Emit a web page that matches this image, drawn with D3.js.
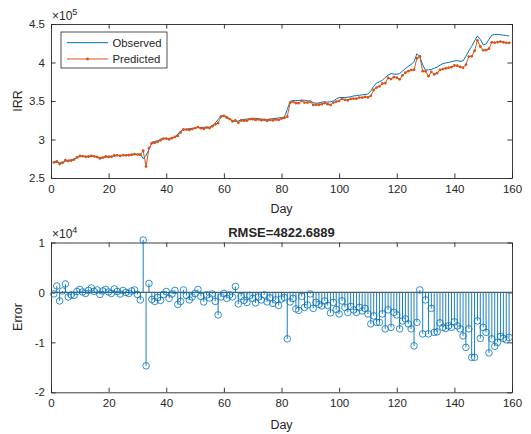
<!DOCTYPE html>
<html><head><meta charset="utf-8">
<script src="https://cdn.jsdelivr.net/npm/d3@7"></script>
<style>
body{margin:0;background:#fff;}
text{font-family:"Liberation Sans",Arial,Helvetica,sans-serif;fill:#262626;}
</style>
</head><body>
<svg id="chart" width="531" height="434"></svg>
<script>
// ---------- data ----------
const observed = [
270500,270300,269800,269500,271500,273000,273200,274500,276500,278000,
278300,277800,277500,277800,278000,276800,275800,276200,277300,277500,
277800,278500,279300,279000,279200,279500,279800,280000,280500,280800,
281500,275000,279500,287000,296500,297500,298000,300500,301500,301000,
301500,302000,303000,307000,311000,312500,313500,314000,314500,315000,
315500,315500,315800,316000,316000,317500,321500,326000,330500,331000,
329500,327000,324500,323500,324000,325500,326000,326500,327000,327500,
327500,327000,326500,326000,326000,326500,327000,327500,328000,328500,
329000,339000,349500,350500,350500,350800,351000,351000,350500,349500,
348000,347000,347500,348500,349000,348500,349000,350000,352500,354500,
354500,354500,355000,355500,356500,357000,357500,358000,358500,359000,
363000,369000,373500,375000,377000,380500,383500,385500,385000,384800,
385500,389000,392000,395000,397500,401000,411500,407500,397000,390000,
390500,391000,392500,394000,396500,398500,399500,400000,401000,402000,
402500,401500,402000,408000,415000,421000,428000,434500,430000,423000,
424000,430000,435500,436500,436500,436000,435500,435000,434500];

const predicted = [
270200,271600,268100,269800,273200,272100,272700,273900,276700,278600,
278400,277600,277900,278700,278200,277300,275400,276500,277900,277600,
277600,279200,279500,278700,279600,279500,279600,280300,281000,280400,
280000,285500,264800,288800,295100,295700,297000,298900,301100,301200,
300300,301700,303400,304600,309200,313000,312900,312500,313600,314800,
316100,314700,313900,315500,314900,317200,319700,321500,329600,330800,
328300,326500,323600,324700,321700,324700,324400,324500,326400,326300,
325400,326100,325000,325500,324100,325400,324800,326000,325400,327200,
328000,329700,347600,349300,347200,347200,350200,348000,348000,349200,
344800,345000,345100,345800,347300,345900,344900,348000,349100,350200,
352800,351500,351000,352700,353000,353000,354500,354300,355300,354700,
356700,364300,367500,369000,372700,373200,380000,378500,381000,380300,
378200,383300,386700,388700,390200,390300,405500,408000,388700,388500,
382200,387800,384500,386100,390400,391500,392300,393300,394000,396100,
395800,394200,393300,397000,407700,408000,415000,428800,420800,416000,
416000,417900,426200,425700,426500,427200,426300,425500,425500];

const errors = [
-300,1300,-1700,300,1700,-900,-500,-600,200,600,
100,-200,400,900,200,500,-400,300,600,100,
-200,700,200,-300,400,0,-200,300,500,-400,
-1500,10500,-14700,1800,-1400,-1800,-1000,-1600,-400,200,
-1200,-300,400,-2400,-1800,500,-600,-1500,-900,-200,
600,-800,-1900,-500,-1100,-300,-1800,-4500,-900,-200,
-1200,-500,-900,1200,-2300,-800,-1600,-2000,-600,-1200,
-2100,-900,-1500,-500,-1900,-1100,-2200,-1500,-2600,-1300,
-1000,-9300,-1900,-1200,-3300,-3600,-800,-3000,-2500,-300,
-3200,-2000,-2400,-2700,-1700,-2600,-4100,-2000,-3400,-4300,
-1700,-3000,-4000,-2800,-3500,-4000,-3000,-3700,-3200,-4300,
-6300,-4700,-6000,-6000,-4300,-7300,-3500,-7000,-4000,-4500,
-7300,-5700,-5300,-6300,-7300,-10700,-6000,500,-8300,-1500,
-8300,-3200,-8000,-7900,-6100,-7000,-7200,-6700,-7000,-5900,
-6700,-7300,-8700,-11000,-7300,-13000,-13000,-5700,-9200,-7000,
-8000,-12100,-9300,-10800,-10000,-8800,-9200,-9500,-9000];

const days = d3.range(1, observed.length + 1);
const xTicks = [0, 20, 40, 60, 80, 100, 120, 140, 160];
const irrTicks = [250000, 300000, 350000, 400000, 450000];
const irrTickLabels = ["2.5", "3", "3.5", "4", "4.5"];
const errTicks = [-20000, -10000, 0, 10000];
const errTickLabels = ["-2", "-1", "0", "1"];
const seriesNames = ["Observed", "Predicted"];
const topYLabel = "IRR";
const botYLabel = "Error";
const xLabel = "Day";
const botTitle = "RMSE=4822.6889";
const topExp = "5", botExp = "4";

// ---------- drawing ----------
const C_OBS = "#0072BD", C_PRED = "#D95319", C_AX = "#262626";
const svg = d3.select("#chart");
const L = 51, R = 512;
const x = d3.scaleLinear().domain([0, 160]).range([L, R]);
const yTop = d3.scaleLinear().domain([250000, 450000]).range([178, 24]);
const yBot = d3.scaleLinear().domain([-20000, 10000]).range([392.3, 242.5]);
const TICK = 4.6, FS = 11.5;

function styleAxis(g) {
  g.selectAll("path.domain").attr("stroke", C_AX).attr("stroke-width", 0.9);
  g.selectAll(".tick line").attr("stroke", C_AX).attr("stroke-width", 0.9);
  g.selectAll(".tick text").attr("fill", C_AX).style("font-size", FS + "px")
    .style("font-family", '"Liberation Sans", Arial, sans-serif');
}

function drawFrame(y, ticks, labels, yMin, yMax) {
  svg.append("g").attr("transform", `translate(0,${y(yMin)})`)
    .call(d3.axisBottom(x).tickValues(xTicks).tickSizeInner(-TICK).tickSizeOuter(0).tickPadding(7).tickFormat(d3.format("d")))
    .call(styleAxis);
  svg.append("g").attr("transform", `translate(0,${y(yMax)})`)
    .call(d3.axisTop(x).tickValues(xTicks).tickSizeInner(-TICK).tickSizeOuter(0).tickFormat(""))
    .call(styleAxis);
  svg.append("g").attr("transform", `translate(${L},0)`)
    .call(d3.axisLeft(y).tickValues(ticks).tickSizeInner(-TICK).tickSizeOuter(0).tickPadding(6)
      .tickFormat((d, i) => labels[i]))
    .call(styleAxis);
  svg.append("g").attr("transform", `translate(${R},0)`)
    .call(d3.axisRight(y).tickValues(ticks).tickSizeInner(-TICK).tickSizeOuter(0).tickFormat(""))
    .call(styleAxis);
}

// ===== Top subplot =====
drawFrame(yTop, irrTicks, irrTickLabels, 250000, 450000);

const lineGen = d3.line().x((d, i) => x(days[i])).y(d => yTop(d));
svg.append("path").datum(observed).attr("d", lineGen)
  .attr("fill", "none").attr("stroke", C_OBS).attr("stroke-width", 1);
svg.append("path").datum(predicted).attr("d", lineGen)
  .attr("fill", "none").attr("stroke", C_PRED).attr("stroke-width", 1);
svg.append("g").selectAll("circle").data(predicted).join("circle")
  .attr("cx", (d, i) => x(days[i])).attr("cy", d => yTop(d)).attr("r", 1.4)
  .attr("fill", C_PRED);

const e1 = svg.append("text").attr("x", 52).attr("y", 20).style("font-size", "12px");
e1.append("tspan").text("\u00d710");
e1.append("tspan").attr("dy", -5).style("font-size", "9px").text(topExp);

svg.append("text").attr("transform", "translate(22,101) rotate(-90)")
  .attr("text-anchor", "middle").style("font-size", "12.5px").text(topYLabel);
svg.append("text").attr("x", (L + R) / 2).attr("y", 213)
  .attr("text-anchor", "middle").style("font-size", "12.5px").text(xLabel);

// legend
const lg = svg.append("g");
lg.append("rect").attr("x", 61).attr("y", 32).attr("width", 106).attr("height", 36)
  .attr("fill", "#fff").attr("stroke", C_AX).attr("stroke-width", 0.8);
const legY = [42.7, 59];
const legC = [C_OBS, C_PRED];
seriesNames.forEach((name, i) => {
  lg.append("line").attr("x1", 67).attr("x2", 108).attr("y1", legY[i]).attr("y2", legY[i])
    .attr("stroke", legC[i]).attr("stroke-width", 1);
  if (i === 1) lg.append("circle").attr("cx", 87.5).attr("cy", legY[i]).attr("r", 1.4).attr("fill", C_PRED);
  lg.append("text").attr("x", 112.5).attr("y", legY[i]).attr("dy", "0.35em")
    .style("font-size", "11.3px").text(name);
});

// ===== Bottom subplot =====
drawFrame(yBot, errTicks, errTickLabels, -20000, 10000);

svg.append("line").attr("x1", L).attr("x2", R).attr("y1", yBot(0)).attr("y2", yBot(0))
  .attr("stroke", "#5a5a5a").attr("stroke-width", 1.2);
svg.append("g").selectAll("line").data(errors).join("line")
  .attr("x1", (d, i) => x(days[i])).attr("x2", (d, i) => x(days[i]))
  .attr("y1", yBot(0)).attr("y2", d => yBot(d))
  .attr("stroke", C_OBS).attr("stroke-width", 0.9);
svg.append("g").selectAll("circle").data(errors).join("circle")
  .attr("cx", (d, i) => x(days[i])).attr("cy", d => yBot(d)).attr("r", 3.3)
  .attr("fill", "none").attr("stroke", C_OBS).attr("stroke-width", 0.8);

const e2 = svg.append("text").attr("x", 52).attr("y", 238).style("font-size", "12px");
e2.append("tspan").text("\u00d710");
e2.append("tspan").attr("dy", -5).style("font-size", "9px").text(botExp);

svg.append("text").attr("x", (L + R) / 2).attr("y", 237)
  .attr("text-anchor", "middle").style("font-size", "13px").style("font-weight", "bold")
  .attr("fill", "#000").text(botTitle);

svg.append("text").attr("transform", "translate(22,317) rotate(-90)")
  .attr("text-anchor", "middle").style("font-size", "12.5px").text(botYLabel);
svg.append("text").attr("x", (L + R) / 2).attr("y", 429)
  .attr("text-anchor", "middle").style("font-size", "12.5px").text(xLabel);
</script>
</body></html>
